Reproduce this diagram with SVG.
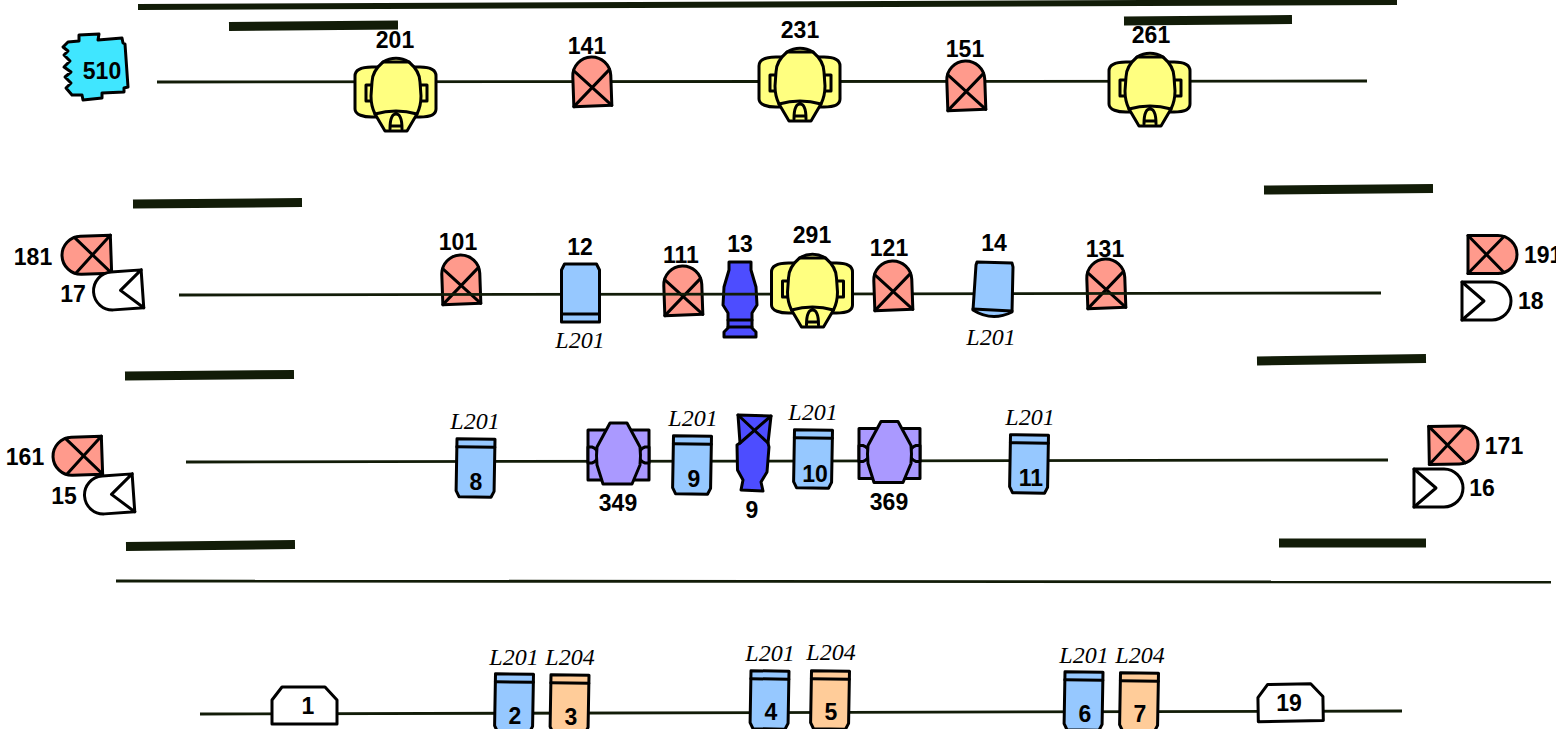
<svg xmlns="http://www.w3.org/2000/svg" xmlns:xlink="http://www.w3.org/1999/xlink" width="1556" height="729" viewBox="0 0 1556 729">
<style>
.s{stroke:#000;stroke-width:3;stroke-linejoin:round;stroke-linecap:round}
.n{fill:none}
.sal{fill:#ff9a8c}.yel{fill:#ffff80}.blu{fill:#96c8ff}.org{fill:#ffcc99}.pur{fill:#4d4dff}.lil{fill:#aa99ff}.wht{fill:#fff}.cya{fill:#40e6ff}
.t{font:bold 23px "Liberation Sans",Arial,sans-serif;fill:#000;text-anchor:middle}
.l{font:italic 24px "Liberation Serif","Times New Roman",serif;fill:#000;text-anchor:middle}
.w{stroke:#121c08;stroke-width:2.8;fill:none}
.b{stroke:#121c08;stroke-width:9;fill:none}
</style>
<defs>
<g id="valve" class="s">
<path class="sal" d="M-19,24L-19,-6A19,19 0 0 1 19,-6L19,24Z"/>
<path class="n" d="M-18,-12L19,24M18,-12L-19,24"/>
</g>
<g id="check" class="s">
<path class="wht" d="M-19,24L-19,-6A19,19 0 0 1 19,-6L19,24L0,2Z"/>
<path class="n" d="M-19,24L19,24"/>
</g>
<g id="yellow" class="s">
<path class="yel" d="M-24,-15C-32,-15 -41,-13 -41,-6L-41,27C-41,33 -32,35 -24,35L24,35C32,35 40,33 40,27L40,-6C40,-13 32,-15 24,-15Z"/>
<path class="yel" d="M-30,3H-23V19H-30ZM24,3H31V19H24Z"/>
<path class="yel" d="M-13,-20C-5,-25 5,-25 13,-20C20,-14 24,-8 24,0L25,14C25,22 23,28 21,32L11,49L-11,49L-21,32C-23,28 -25,22 -25,14L-24,0C-24,-8 -20,-14 -13,-20Z"/>
<path class="n" d="M-13,-20L13,-20M-21,32Q0,26 21,32M-6,47Q-6,32 0,32Q6,32 6,47M-6,44L6,44"/>
</g>
<g id="lens" class="s">
<path d="M-19,0L19,0L19,52L16,58L-16,58L-19,52Z"/>
<path class="n" d="M-19,8L19,8"/>
</g>
<g id="lilac" class="s">
<path class="lil" d="M-30,-25H31V25H-30Z"/>
<path class="lil" d="M-30,-8H-26Q-20,-6 -20,0Q-20,6 -26,8H-30ZM31,-8H27Q21,-6 21,0Q21,6 27,8H31Z"/>
<path class="lil" d="M-8,-32L9,-32L22,-8Q23,0 22,10L14,29L-15,29L-21,10Q-22,0 -21,-8Z"/>
</g>
<g id="box" class="s">
<path class="wht" d="M-26,-18L17,-18L29,-5L29,19L-36,19L-36,-5Z"/>
</g>
</defs>

<g id="bars">
<path class="b" d="M229,26.500L398,25"/>
<path class="b" d="M1124,21L1292,19.500"/>
<path class="b" d="M133,204L302,202.500"/>
<path class="b" d="M1264,190L1433,188.500"/>
<path class="b" d="M125,376L294,374.500"/>
<path class="b" d="M1257,361L1426,358.500"/>
<path class="b" d="M126,546.500L295,544.500"/>
<path class="b" d="M1279,543L1426,543"/>
<path class="b" d="M138,7L1397,2" style="stroke-width:6"/>
</g>

<g id="n101"><use href="#valve" transform="translate(461,280) rotate(-2)"/></g>
<g id="n111"><use href="#valve" transform="translate(683,291) rotate(-2)"/></g>
<g id="n131"><use href="#valve" transform="translate(1106,284) rotate(-2)"/></g>
<g id="n13"><path class="s pur" d="M729,262H751V270L756,287L757,305L752,313V328L756,332V337H724V332L728,328V313L723,305L724,287L729,270Z"/><path class="s n" d="M728,320H752M728,327H752"/></g>

<g id="connectors">
<path class="w" d="M157,82L1367,81"/>
<path class="w" d="M179,295L1381,293"/>
<path class="w" d="M186,462L1388,460"/>
<path class="w" d="M116,581L1551,582"/>
<path class="w" d="M200,714L1402,711"/>
</g>

<g id="n510"><path class="s cya" d="M63,47L68,42L79,41L79,35L99,34L98,40L122,38L123,43L125,44L128,87L124,88L124,92L102,93L102,98L83,100L82,95L72,95L66,88L71,83L65,77L71,72L64,67L70,61L64,55L68,51Z"/><text class="t" x="102" y="79">510</text></g>
<g id="n201"><use href="#yellow" transform="translate(396,82)"/><text class="t" x="395" y="48">201</text></g>
<g id="n141"><use href="#valve" transform="translate(592,82) rotate(-2)"/><text class="t" x="587" y="54">141</text></g>
<g id="n231"><use href="#yellow" transform="translate(800,72)"/><text class="t" x="800" y="38">231</text></g>
<g id="n151"><use href="#valve" transform="translate(966,86) rotate(-2)"/><text class="t" x="965" y="57">151</text></g>
<g id="n261"><use href="#yellow" transform="translate(1150,77)"/><text class="t" x="1151" y="43">261</text></g>

<g id="n181"><use href="#valve" transform="translate(87,255) rotate(-92)"/><text class="t" x="33" y="265">181</text></g>
<g id="n17"><use href="#check" transform="translate(118.500,290.500) rotate(-94)"/><text class="t" x="73" y="302">17</text></g>
<g id="n191"><use href="#valve" transform="translate(1492,254.500) rotate(90)"/><text class="t" x="1524" y="263" style="text-anchor:start">191</text></g>
<g id="n18"><use href="#check" transform="translate(1486,301) rotate(90)"/><text class="t" x="1518" y="309" style="text-anchor:start">18</text></g>
<g id="t101"><text class="t" x="458" y="250">101</text></g>
<g id="t111"><text class="t" x="681" y="263">111</text></g>
<g id="t13"><text class="t" x="740" y="252">13</text></g>
<g id="t131"><text class="t" x="1105" y="257">131</text></g>
<g id="n12"><use href="#lens" class="blu" transform="translate(580.500,322) scale(1,-1)"/><text class="t" x="580" y="255">12</text><text class="l" x="580" y="348">L201</text></g>
<g id="n291"><use href="#yellow" transform="translate(812.500,278)"/><text class="t" x="812" y="243">291</text></g>
<g id="n121"><use href="#valve" transform="translate(893,286) rotate(-2)"/><text class="t" x="889" y="256">121</text></g>
<g id="n14"><path class="s blu" d="M977,262L1012,263L1013,267L1012,312Q992,322 973,310L976,265Z"/><path class="s n" d="M973,309L1012,311"/><text class="t" x="994" y="251">14</text><text class="l" x="991" y="345">L201</text></g>

<g id="n161"><use href="#valve" transform="translate(78,456) rotate(-92)"/><text class="t" x="25" y="465">161</text></g>
<g id="n15"><use href="#check" transform="translate(109.500,494.500) rotate(-94)"/><text class="t" x="64" y="504">15</text></g>
<g id="n171"><use href="#valve" transform="translate(1453,445) rotate(89)"/><text class="t" x="1504" y="454">171</text></g>
<g id="n16"><use href="#check" transform="translate(1438,488) rotate(90)"/><text class="t" x="1482" y="496">16</text></g>
<g id="n8"><use href="#lens" class="blu" transform="translate(476,439) rotate(1)"/><text class="t" x="476" y="490">8</text><text class="l" x="475" y="429">L201</text></g>
<g id="n349"><use href="#lilac" transform="translate(618,455)"/><text class="t" x="618" y="511">349</text></g>
<g id="n9"><use href="#lens" class="blu" transform="translate(692.500,436) rotate(1)"/><text class="t" x="694" y="487">9</text><text class="l" x="693" y="426">L201</text></g>
<g id="nv9"><path class="s pur" d="M738,415L771,416L768,443L769,447L767,472L761,482L763,491L741,490L743,480L737.500,470L737,445L740,443Z"/><path class="s n" d="M738,415L768,443M771,416L740,443"/><text class="t" x="752" y="518">9</text></g>
<g id="n10"><use href="#lens" class="blu" transform="translate(813.500,430) rotate(1)"/><text class="t" x="815" y="482">10</text><text class="l" x="813" y="420">L201</text></g>
<g id="n369"><use href="#lilac" transform="translate(889,453.500)"/><text class="t" x="889" y="510">369</text></g>
<g id="n11"><use href="#lens" class="blu" transform="translate(1029.500,435) rotate(1)"/><text class="t" x="1031" y="486">11</text><text class="l" x="1030" y="425">L201</text></g>

<g id="n1"><use href="#box" transform="translate(308,705)"/><text class="t" x="308" y="714">1</text></g>
<g id="n2"><use href="#lens" class="blu" transform="translate(514.500,674) rotate(1)"/><text class="t" x="515" y="724">2</text><text class="l" x="514" y="665">L201</text></g>
<g id="n3"><use href="#lens" class="org" transform="translate(570,675) rotate(1)"/><text class="t" x="571" y="725">3</text><text class="l" x="570" y="665">L204</text></g>
<g id="n4"><use href="#lens" class="blu" transform="translate(770,671) rotate(1)"/><text class="t" x="771" y="720">4</text><text class="l" x="770" y="661">L201</text></g>
<g id="n5"><use href="#lens" class="org" transform="translate(830.500,671) rotate(1)"/><text class="t" x="831" y="720">5</text><text class="l" x="831" y="660">L204</text></g>
<g id="n6"><use href="#lens" class="blu" transform="translate(1084,672) rotate(1)"/><text class="t" x="1085" y="722">6</text><text class="l" x="1084" y="663">L201</text></g>
<g id="n7"><use href="#lens" class="org" transform="translate(1139.500,673) rotate(1)"/><text class="t" x="1140" y="722">7</text><text class="l" x="1140" y="663">L204</text></g>
<g id="n19"><use href="#box" transform="translate(1294,702) rotate(-1)"/><text class="t" x="1289" y="711">19</text></g>
</svg>
